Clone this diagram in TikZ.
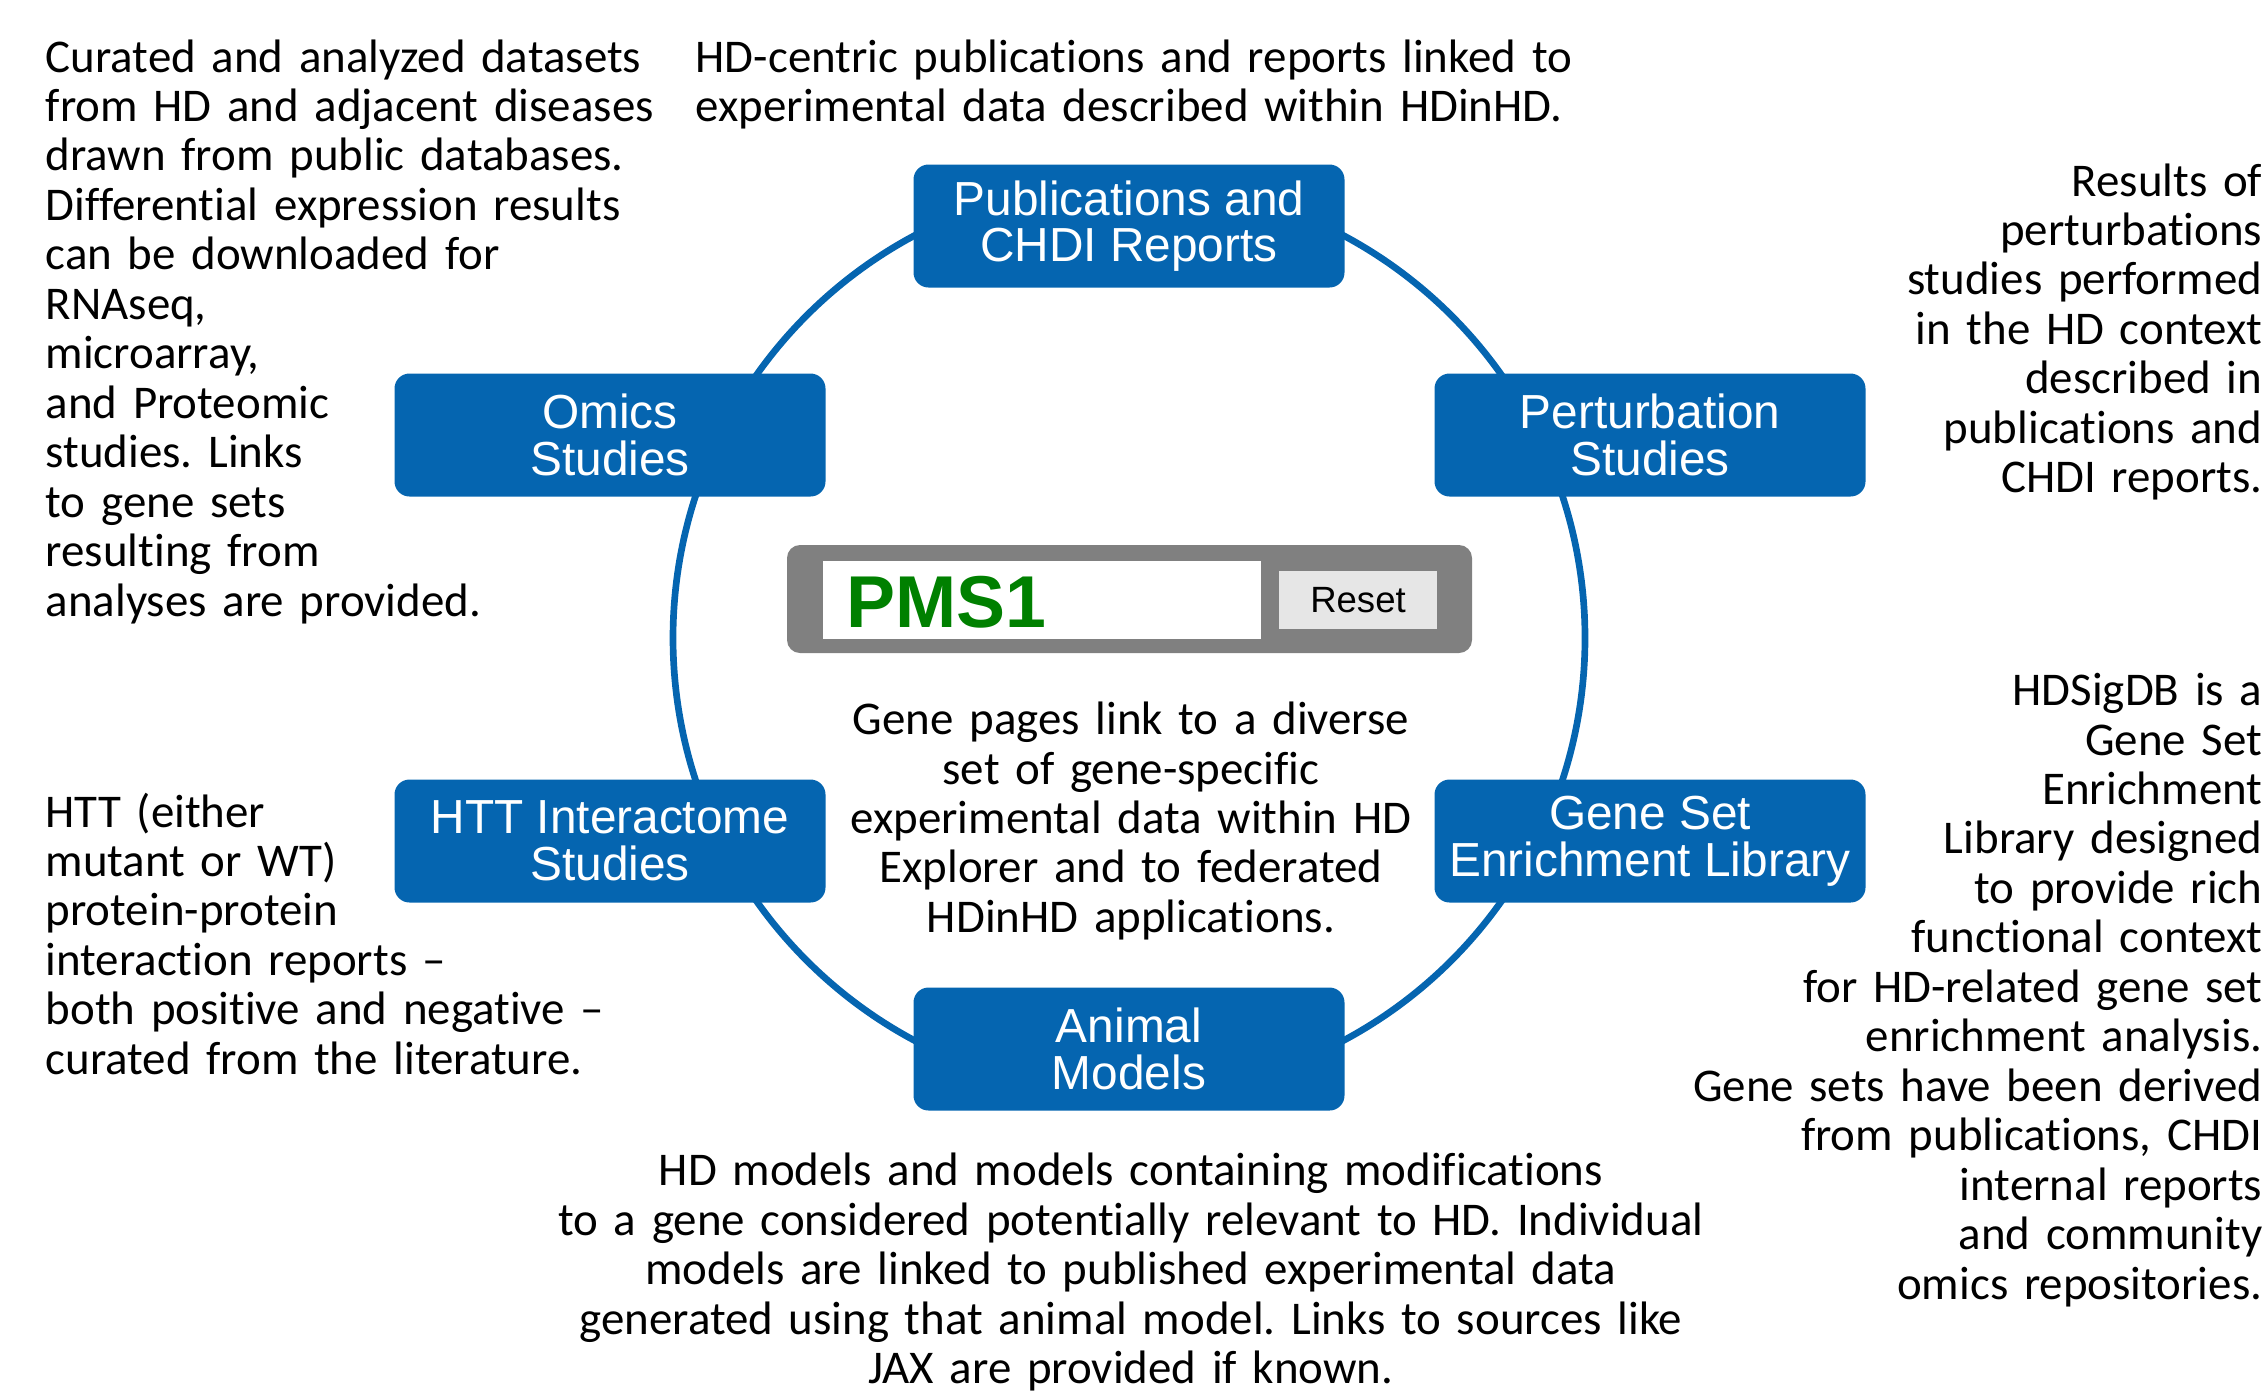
\documentclass[tikz,border=0pt]{standalone}
\usepackage{fontspec}
\setmainfont[Ligatures=NoCommon]{Carlito}
\newfontfamily\arialfont{Liberation Sans}
\usetikzlibrary{positioning}
\frenchspacing

\definecolor{chdiblue}{RGB}{5,101,176}
\definecolor{pmsgreen}{RGB}{0,128,0}
\definecolor{searchgray}{RGB}{128,128,128}
\definecolor{resetgray}{RGB}{230,230,230}

\begin{document}
\begin{tikzpicture}[x=0.1mm, y=-0.1mm,
    module/.style={rectangle, rounded corners=1.5mm, fill=chdiblue, text=white, minimum width=43.1mm, minimum height=12.3mm, align=center, inner sep=0pt, font=\arialfont\fontsize{13.6}{13.3}\selectfont},
    note/.style={inner sep=0pt, font=\fontsize{13.35}{14.08}\selectfont}]
    \useasboundingbox (0,0) rectangle (2267,1395);

    % Ring behind the modules
    \coordinate (hub) at (1129,638);
    \draw[chdiblue, line width=1.9pt] (hub) circle [radius=45.6mm];

    % Modules around the gene page
    \node[module] (pubs) at (1129,226) {Publications and\\CHDI Reports};
    \node[module] (omics) at (610,435) {Omics\\Studies};
    \node[module] (pert) at (1650,435) {Perturbation\\Studies};
    \node[module] (htt) at (610,841) {HTT Interactome\\Studies};
    \node[module] (gsel) at (1650,841) {Gene Set\\Enrichment Library};
    \node[module] (animal) at (1129,1049) {Animal\\Models};

    % Gene search box
    \node[rectangle, fill=searchgray, rounded corners=1.3mm, minimum width=68.5mm, minimum height=10.8mm] (search) at (1129.5,599) {};
    \node[rectangle, fill=white, minimum width=43.8mm, minimum height=7.8mm, inner sep=0pt] (field) at (1042,600) {};
    \node[rectangle, fill=resetgray, minimum width=15.8mm, minimum height=5.8mm, inner sep=0pt, font=\arialfont\fontsize{10.4}{12}\selectfont] (reset) at (1358,600) {Reset};
    \node[anchor=base west, inner sep=0pt, text=pmsgreen, font=\arialfont\bfseries\fontsize{20.9}{24}\selectfont] (gene) at (846,627) {PMS1};

    % Descriptions
    \node[note, anchor=base west, align=left, text width=65mm] (omicsnote) at (45,72) {Curated and analyzed datasets\\from HD and adjacent diseases\\drawn from public databases.\\Differential expression results\\can be downloaded for\\RNAseq,\\microarray,\\and Proteomic\\studies. Links\\to gene sets\\resulting from\\analyses are provided.};
    \node[note, anchor=base west, align=left, text width=90mm] (pubsnote) at (695,72) {HD-centric publications and reports linked to\\experimental data described within HDinHD.};
    \node[note, anchor=base east, align=right, text width=40mm] (pertnote) at (2263,196) {Results of\\perturbations\\studies performed\\in the HD context\\described in\\publications and\\CHDI reports.};
    \node[note, anchor=base east, align=right, text width=60mm] (gselnote) at (2263,705.5) {HDSigDB is a\\Gene Set\\Enrichment\\Library designed\\to provide rich\\functional context\\for HD-related gene set\\enrichment analysis.\\Gene sets have been derived\\from publications, CHDI\\internal reports\\and community\\omics repositories.};
    \node[note, anchor=base west, align=left, text width=60mm] (httnote) at (45,827) {HTT (either\\mutant or WT)\\protein-protein\\interaction reports –\\both positive and negative –\\curated from the literature.};
    \node[note, anchor=base, align=center, text width=60mm] (genenote) at (1131,734.5) {Gene pages link to a diverse\\set of gene-specific\\experimental data within HD\\Explorer and to federated\\HDinHD applications.};
    \node[note, anchor=base, align=center, text width=120mm] (animalnote) at (1131,1185.6) {HD models and models containing modifications\\to a gene considered potentially relevant to HD. Individual\\models are linked to published experimental data\\generated using that animal model. Links to sources like\\JAX are provided if known.};
\end{tikzpicture}
\end{document}
